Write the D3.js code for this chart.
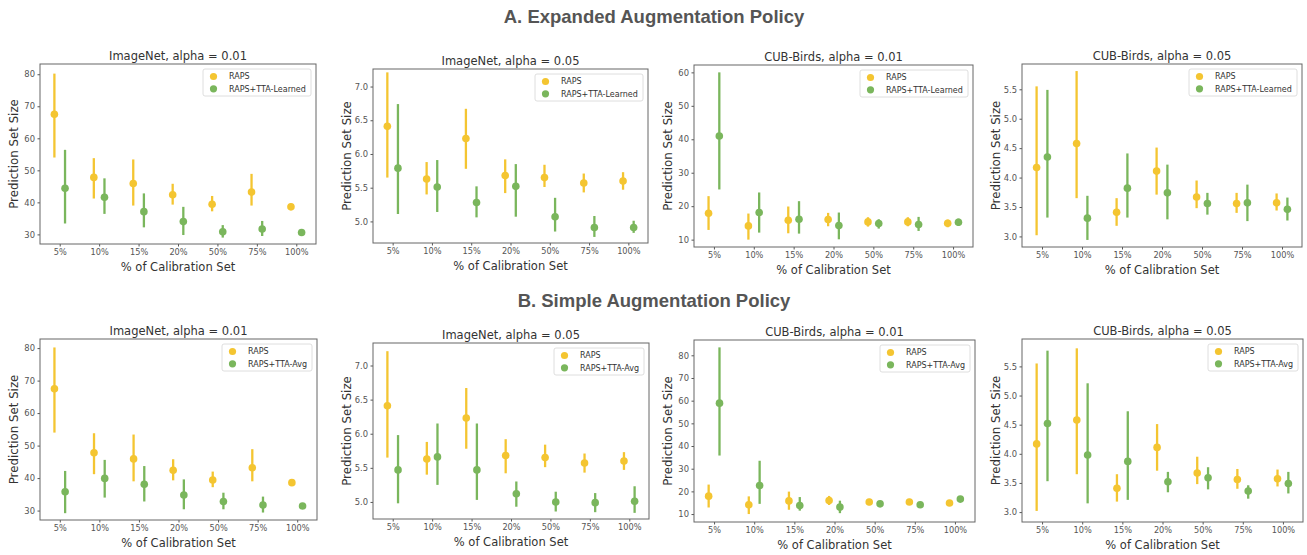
<!DOCTYPE html>
<html>
<head>
<meta charset="utf-8">
<script src="https://cdn.jsdelivr.net/npm/d3@7"></script>
<style>
  body { margin: 0; background: #fff; }
  svg { display: block; }
  .tick text { font-family: "DejaVu Sans", sans-serif; fill: #555; }
  .tick line { stroke: #555; }
</style>
</head>
<body>
<svg id="fig" width="1307" height="555"></svg>
<script>
// x categories, shared by every panel
var categories = ["5%", "10%", "15%", "20%", "50%", "75%", "100%"];

// each entry is [mean, low, high]
var rapsImageNet01 = [[67.5, 54.0, 80.2], [47.8, 41.2, 53.8], [45.9, 39.0, 53.4], [42.4, 39.3, 45.8], [39.4, 37.2, 42.0], [43.2, 39.0, 48.9], [38.6, 37.6, 39.6]];
var rapsImageNet05 = [[6.41, 5.65, 7.21], [5.63, 5.40, 5.88], [6.23, 5.78, 6.67], [5.68, 5.42, 5.92], [5.65, 5.51, 5.84], [5.57, 5.43, 5.71], [5.60, 5.47, 5.73]];
var rapsCub01 = [[17.9, 12.9, 23.0], [14.1, 10.0, 17.8], [15.8, 11.9, 19.9], [16.0, 14.0, 18.0], [15.3, 13.9, 16.7], [15.3, 14.0, 16.7], [14.9, 13.7, 16.0]];
var rapsCub05 = [[4.17, 3.02, 5.55], [4.58, 3.65, 5.81], [3.41, 3.18, 3.65], [4.11, 3.71, 4.51], [3.67, 3.48, 3.95], [3.56, 3.40, 3.74], [3.57, 3.44, 3.73]];

var learnedImageNet01 = [[44.4, 33.4, 56.4], [41.6, 36.4, 47.5], [37.1, 32.2, 42.8], [34.0, 29.8, 38.6], [30.8, 29.0, 32.9], [31.7, 29.5, 34.2], [30.6, 29.8, 31.6]];
var learnedImageNet05 = [[5.79, 5.11, 6.74], [5.51, 5.14, 5.91], [5.28, 5.06, 5.52], [5.52, 5.07, 5.85], [5.07, 4.85, 5.35], [4.91, 4.77, 5.08], [4.91, 4.83, 5.01]];
var learnedCub01 = [[41.0, 25.0, 60.0], [18.1, 12.1, 24.1], [16.1, 11.8, 21.5], [14.2, 10.1, 18.1], [14.8, 13.3, 16.1], [14.5, 12.6, 16.8], [15.2, 14.1, 16.3]];
var learnedCub05 = [[4.35, 3.32, 5.49], [3.31, 2.94, 3.69], [3.82, 3.32, 4.41], [3.74, 3.29, 4.22], [3.56, 3.37, 3.74], [3.57, 3.26, 3.88], [3.46, 3.27, 3.66]];

var avgImageNet01 = [[35.8, 29.2, 42.2], [39.9, 34.0, 45.6], [38.1, 32.8, 43.7], [34.8, 30.4, 39.6], [32.8, 30.4, 35.5], [31.7, 29.4, 34.3], [31.4, 30.7, 32.3]];
var avgImageNet05 = [[5.47, 4.98, 5.98], [5.66, 5.25, 6.15], [5.47, 5.03, 6.15], [5.12, 4.93, 5.30], [5.00, 4.86, 5.15], [4.99, 4.85, 5.13], [5.01, 4.84, 5.23]];
var avgCub01 = [[58.9, 35.8, 83.5], [22.6, 14.5, 33.5], [13.8, 11.5, 17.5], [13.1, 10.4, 15.9], [14.5, 13.4, 15.6], [14.1, 13.1, 15.1], [16.6, 15.3, 17.8]];
var avgCub05 = [[4.52, 3.53, 5.77], [3.98, 3.15, 5.21], [3.87, 3.21, 4.73], [3.52, 3.34, 3.69], [3.59, 3.39, 3.77], [3.36, 3.23, 3.46], [3.49, 3.32, 3.69]];

var titles = ["ImageNet, alpha = 0.01", "ImageNet, alpha = 0.05", "CUB-Birds, alpha = 0.01", "CUB-Birds, alpha = 0.05"];
var headings = ["A. Expanded Augmentation Policy", "B. Simple Augmentation Policy"];
var seriesNames = ["RAPS", "RAPS+TTA-Learned", "RAPS+TTA-Avg"];

var yTicks01 = [30, 40, 50, 60, 70, 80];
var yTicks05 = [5.0, 5.5, 6.0, 6.5, 7.0];
var yTicksCub01a = [10, 20, 30, 40, 50, 60];
var yTicksCub01b = [10, 20, 30, 40, 50, 60, 70, 80];
var yTicksCub05 = [3.0, 3.5, 4.0, 4.5, 5.0, 5.5];

var yellow = "#f4c531",
  green = "#7ab65c";

// panel frames [left, top, right, bottom] and y domains
var panels = [
  {box: [40, 64, 316, 244], dom: [27.0, 83.2], ticks: yTicks01, fmt: "d", title: titles[0], a: rapsImageNet01, b: learnedImageNet01, name: seriesNames[1]},
  {box: [373, 69, 648, 243], dom: [4.68, 7.26], ticks: yTicks05, fmt: ".1f", title: titles[1], a: rapsImageNet05, b: learnedImageNet05, name: seriesNames[1]},
  {box: [694, 65, 973, 247], dom: [7.8, 62.2], ticks: yTicksCub01a, fmt: "d", title: titles[2], a: rapsCub01, b: learnedCub01, name: seriesNames[1]},
  {box: [1022, 64, 1302, 247], dom: [2.82, 5.93], ticks: yTicksCub05, fmt: ".1f", title: titles[3], a: rapsCub05, b: learnedCub05, name: seriesNames[1]},
  {box: [40, 339, 317, 520], dom: [27.1, 82.8], ticks: yTicks01, fmt: "d", title: titles[0], a: rapsImageNet01, b: avgImageNet01, name: seriesNames[2]},
  {box: [373, 343, 649, 519], dom: [4.75, 7.33], ticks: yTicks05, fmt: ".1f", title: titles[1], a: rapsImageNet05, b: avgImageNet05, name: seriesNames[2]},
  {box: [694, 340, 975, 522], dom: [6.5, 86.75], ticks: yTicksCub01b, fmt: "d", title: titles[2], a: rapsCub01, b: avgCub01, name: seriesNames[2]},
  {box: [1022, 339, 1303, 522], dom: [2.83, 5.97], ticks: yTicksCub05, fmt: ".1f", title: titles[3], a: rapsCub05, b: avgCub05, name: seriesNames[2]}
];

var svg = d3.select("#fig");

svg.selectAll("text.heading")
  .data(headings)
  .enter().append("text")
  .attr("class", "heading")
  .attr("x", 654)
  .attr("y", function(d, i) { return i === 0 ? 23 : 307; })
  .attr("text-anchor", "middle")
  .style("font-family", "'Liberation Sans', Arial, sans-serif")
  .style("font-weight", "bold")
  .style("font-size", "18.5px")
  .style("fill", "#555")
  .text(function(d) { return d; });

panels.forEach(function(p) {
  var w = p.box[2] - p.box[0],
    h = p.box[3] - p.box[1];

  var g = svg.append("g")
    .attr("transform", "translate(" + p.box[0] + "," + p.box[1] + ")");

  var x = d3.scalePoint().domain(categories).range([0, w]).padding(0.5);
  var y = d3.scaleLinear().domain(p.dom).range([h, 0]);
  var dodge = x.step() * 0.135;

  var yAxis = g.append("g")
    .call(d3.axisLeft(y).tickValues(p.ticks).tickSize(2.5).tickPadding(2.5)
      .tickFormat(d3.format(p.fmt)));
  yAxis.select(".domain").remove();
  yAxis.selectAll("text").style("font-size", "8.4px");

  var xAxis = g.append("g")
    .attr("transform", "translate(0," + h + ")")
    .call(d3.axisBottom(x).tickSize(2.5).tickPadding(3));
  xAxis.select(".domain").remove();
  xAxis.selectAll("text").style("font-size", "8.2px");

  g.append("rect")
    .attr("width", w)
    .attr("height", h)
    .attr("fill", "none")
    .attr("stroke", "#666")
    .attr("stroke-width", 1);

  g.append("text")
    .attr("x", w / 2)
    .attr("y", -4)
    .attr("text-anchor", "middle")
    .style("font-family", "'DejaVu Sans', sans-serif")
    .style("font-size", "11.5px")
    .style("fill", "#333")
    .text(p.title);

  g.append("text")
    .attr("x", w / 2)
    .attr("y", h + 27)
    .attr("text-anchor", "middle")
    .style("font-family", "'DejaVu Sans', sans-serif")
    .style("font-size", "11.5px")
    .style("fill", "#333")
    .text("% of Calibration Set");

  g.append("text")
    .attr("transform", "translate(-22," + (h / 2) + ") rotate(-90)")
    .attr("text-anchor", "middle")
    .style("font-family", "'DejaVu Sans', sans-serif")
    .style("font-size", "11.8px")
    .style("fill", "#333")
    .text("Prediction Set Size");

  var series = [
    {data: p.a, color: yellow, off: -dodge},
    {data: p.b, color: green, off: dodge}
  ];

  series.forEach(function(s) {
    var grp = g.append("g");
    grp.selectAll("line")
      .data(s.data)
      .enter().append("line")
      .attr("x1", function(d, i) { return x(categories[i]) + s.off; })
      .attr("x2", function(d, i) { return x(categories[i]) + s.off; })
      .attr("y1", function(d) { return y(d[1]); })
      .attr("y2", function(d) { return y(d[2]); })
      .attr("stroke", s.color)
      .attr("stroke-width", 2.3);
    grp.selectAll("circle")
      .data(s.data)
      .enter().append("circle")
      .attr("cx", function(d, i) { return x(categories[i]) + s.off; })
      .attr("cy", function(d) { return y(d[0]); })
      .attr("r", 3.8)
      .attr("fill", s.color);
  });

  // legend
  var lw = p.name === seriesNames[1] ? 108 : 90;
  var lg = g.append("g")
    .attr("transform", "translate(" + (w - 5 - lw) + ",5)");
  lg.append("rect")
    .attr("width", lw)
    .attr("height", 27)
    .attr("rx", 2)
    .attr("fill", "#fff")
    .attr("stroke", "#d5d5d5")
    .attr("stroke-width", 0.8);
  [[seriesNames[0], yellow], [p.name, green]].forEach(function(item, i) {
    lg.append("circle")
      .attr("cx", 10.5)
      .attr("cy", 7.5 + i * 12.3)
      .attr("r", 3.6)
      .attr("fill", item[1]);
    lg.append("text")
      .attr("x", 26)
      .attr("y", 7.5 + i * 12.3)
      .attr("dy", "0.35em")
      .style("font-family", "'DejaVu Sans', sans-serif")
      .style("font-size", "8px")
      .style("fill", "#333")
      .text(item[0]);
  });
});
</script>
</body>
</html>
